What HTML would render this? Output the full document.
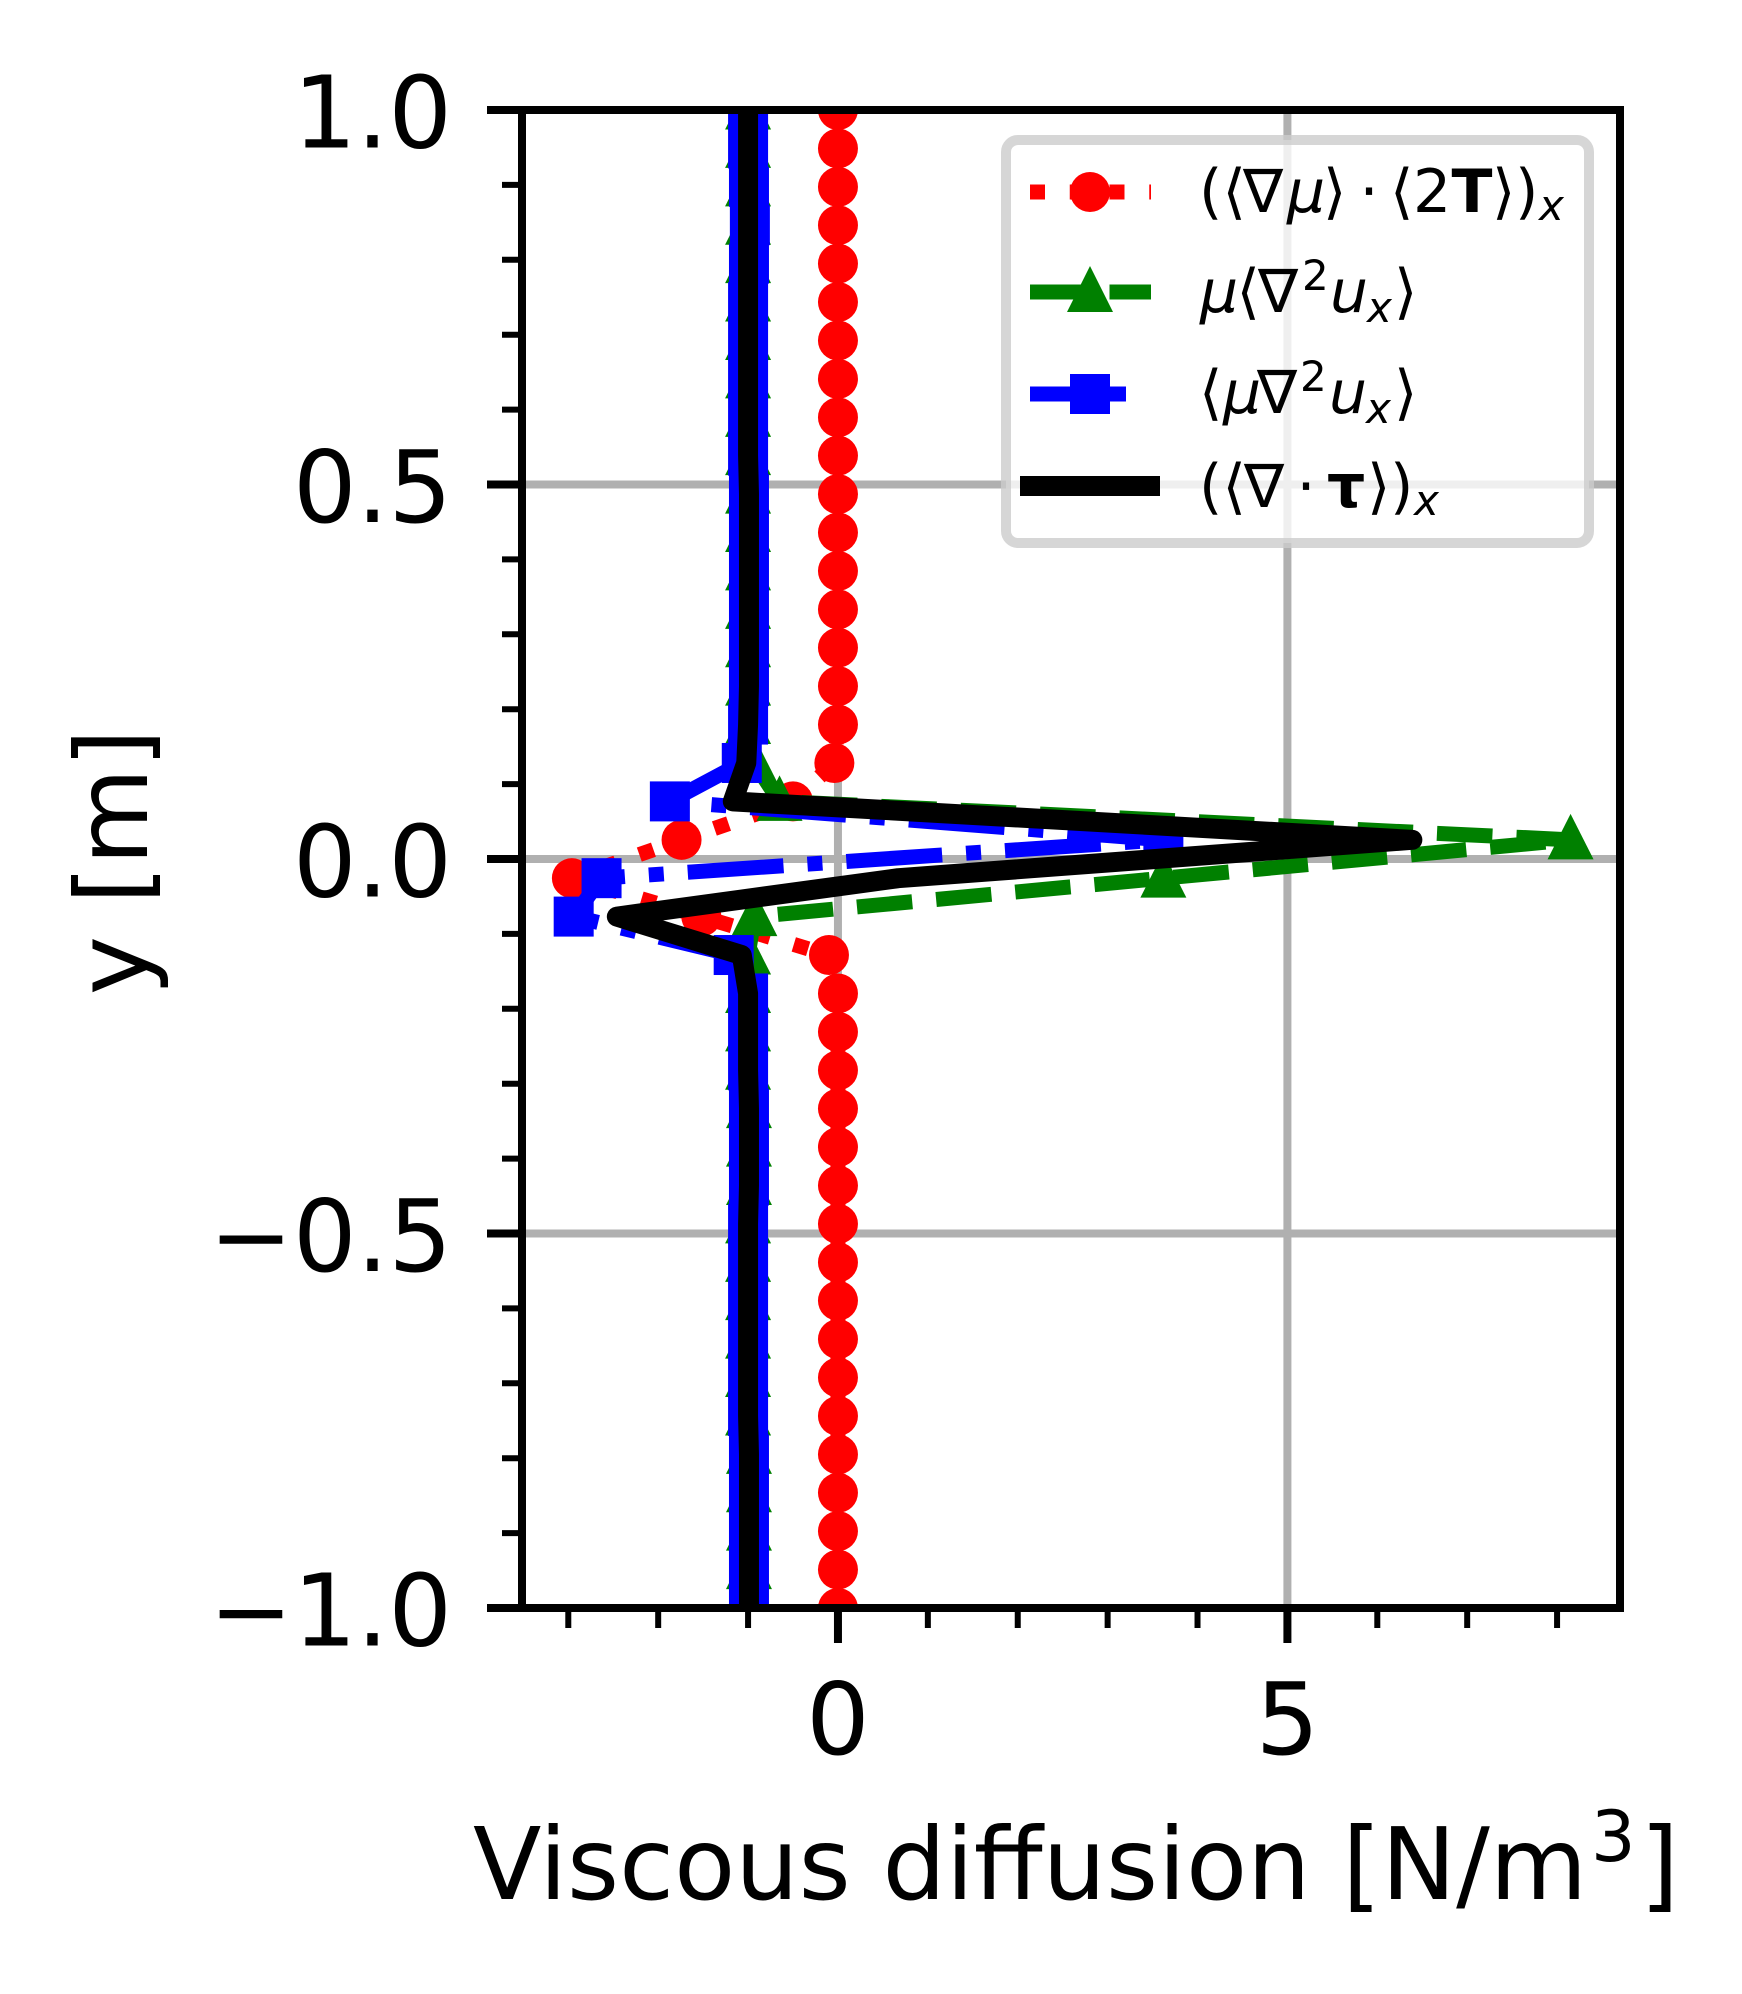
<!DOCTYPE html>
<html lang="en">
<head>
<meta charset="utf-8">
<title>Viscous diffusion profile</title>
<style>
html,body{margin:0;padding:0;background:#fff;}
svg{display:block;}
text{font-family:"DejaVu Sans","Liberation Sans",sans-serif;fill:#000;}
</style>
</head>
<body>
<svg id="chart" xmlns="http://www.w3.org/2000/svg" width="1742" height="1994" viewBox="0 0 1742 1994">
  <rect x="0" y="0" width="1742" height="1994" fill="#fff"/>
  <defs>
    <clipPath id="plot-clip"><rect x="522" y="110" width="1098" height="1498"/></clipPath>
  </defs>
  <g id="grid-layer"></g>
  <g id="series-layer" clip-path="url(#plot-clip)"></g>
  <g id="tick-layer"></g>
  <g id="spine-layer">
    <rect x="522" y="110" width="1098" height="1498" fill="none" stroke="#000" stroke-width="8" stroke-linejoin="miter"/>
  </g>

  <text font-size="100" y="1899"><tspan x="473">Viscous diffusion [N/m</tspan><tspan x="1591" y="1861" font-size="70">3</tspan><tspan x="1640" y="1899">]</tspan></text>
  <text font-size="100" text-anchor="middle" transform="translate(147,862) rotate(-90)">y [m]</text>

  <g>
    <rect x="1006" y="140" width="583" height="403" rx="12" ry="12" fill="#fff" fill-opacity="0.8" stroke="#ccc" stroke-opacity="0.8" stroke-width="10"/>

    <g>
      <line x1="1030" y1="192" x2="1151" y2="192" stroke="#f00" stroke-width="15" stroke-dasharray="15 24.75"/>
      <circle cx="1090" cy="192" r="20" fill="#f00"/>
      <text font-size="60" y="212"><tspan x="1199">(</tspan><tspan x="1222.5">⟨</tspan><tspan x="1243">∇</tspan><tspan x="1287" font-style="italic">μ</tspan><tspan x="1323">⟩</tspan><tspan x="1359.5">⋅</tspan><tspan x="1390">⟨</tspan><tspan x="1413">2</tspan><tspan x="1451.5" font-weight="bold">T</tspan><tspan x="1492">⟩</tspan><tspan x="1515">)</tspan><tspan x="1539" y="220" font-size="42" font-style="italic">x</tspan></text>
    </g>

    <g>
      <line x1="1030" y1="292" x2="1151" y2="292" stroke="#008000" stroke-width="15" stroke-dasharray="55.5 24"/>
      <polygon points="1090,266 1113,312 1067,312" fill="#008000"/>
      <text font-size="60" y="312"><tspan x="1200" font-style="italic">μ</tspan><tspan x="1236.5">⟨</tspan><tspan x="1258">∇</tspan><tspan x="1302" y="290" font-size="42">2</tspan><tspan x="1330" y="312" font-style="italic">u</tspan><tspan x="1367" y="322" font-size="42" font-style="italic">x</tspan><tspan x="1394" y="312">⟩</tspan></text>
    </g>

    <g>
      <line x1="1030" y1="394" x2="1150" y2="394" stroke="#00f" stroke-width="15" stroke-dasharray="96 24 15 24"/>
      <rect x="1070" y="374" width="40" height="40" fill="#00f"/>
      <text font-size="60" y="413"><tspan x="1199">⟨</tspan><tspan x="1223" font-style="italic">μ</tspan><tspan x="1257">∇</tspan><tspan x="1300" y="391" font-size="42">2</tspan><tspan x="1329" y="413" font-style="italic">u</tspan><tspan x="1366" y="423" font-size="42" font-style="italic">x</tspan><tspan x="1394" y="413">⟩</tspan></text>
    </g>

    <g>
      <line x1="1020" y1="486" x2="1160" y2="486" stroke="#000" stroke-width="20"/>
      <text font-size="60" y="507"><tspan x="1199">(</tspan><tspan x="1222.5">⟨</tspan><tspan x="1244">∇</tspan><tspan x="1296.5">⋅</tspan><tspan x="1327" font-weight="bold">τ</tspan><tspan x="1367">⟩</tspan><tspan x="1390">)</tspan><tspan x="1414" y="515" font-size="42" font-style="italic">x</tspan></text>
    </g>
  </g>
</svg>
<script>
// ---- chart data ----
const yValues = [-1, -0.9487, -0.8974, -0.8462, -0.7949, -0.7436, -0.6923, -0.641, -0.5897, -0.5385, -0.4872, -0.4359, -0.3846, -0.3333, -0.2821, -0.2308, -0.1795, -0.1282, -0.0769, -0.0256, 0.0256, 0.0769, 0.1282, 0.1795, 0.2308, 0.2821, 0.3333, 0.3846, 0.4359, 0.4872, 0.5385, 0.5897, 0.641, 0.6923, 0.7436, 0.7949, 0.8462, 0.8974, 0.9487, 1];
const gradMuTerm = [0, 0, 0, 0, 0, 0, 0, 0, 0, 0, 0, 0, 0, 0, 0, 0, 0, -0.1, -1.52, -2.96, -1.74, -0.5, -0.04, 0, 0, 0, 0, 0, 0, 0, 0, 0, 0, 0, 0, 0, 0, 0, 0, 0];
const muLaplacian = [-0.99, -0.99, -0.99, -0.99, -0.99, -1, -1, -1, -1, -1, -1, -0.99, -0.99, -0.99, -1, -1, -1, -1, -0.93, 3.62, 8.15, -0.65, -0.93, -1, -1, -1, -1, -1, -1, -1, -1, -1, -1, -1, -1, -1, -1, -1, -1, -1];
const avgMuLaplacian = [-0.99, -0.99, -0.99, -0.99, -0.99, -1, -1, -1, -1, -1, -1, -0.99, -0.99, -0.99, -1, -1, -1, -1.16, -2.94, -2.63, 3.62, -1.87, -1.07, -1, -0.99, -0.99, -0.99, -0.99, -0.99, -0.99, -1, -1, -1, -1, -1, -0.99, -0.98, -0.99, -1, -1];
const divTau = [-0.99, -0.99, -0.99, -0.99, -0.99, -1, -1, -1, -1, -1, -1, -0.99, -0.99, -0.99, -1, -1, -1, -1.07, -2.46, 0.67, 6.39, -1.17, -1.02, -1, -0.99, -0.99, -0.99, -0.99, -0.99, -0.99, -1, -1, -1, -1, -1, -1, -1, -1, -1, -1];
const xMajorTicks = [0, 5];
const xMajorLabels = ['0', '5'];
const xMinorTicks = [-3, -2, -1, 1, 2, 3, 4, 6, 7, 8];
const yMajorTicks = [-1, -0.5, 0, 0.5, 1];
const yMajorLabels = ['\u22121.0', '\u22120.5', '0.0', '0.5', '1.0'];
const yMinorTicks = [-0.9, -0.8, -0.7, -0.6, -0.4, -0.3, -0.2, -0.1, 0.1, 0.2, 0.3, 0.4, 0.6, 0.7, 0.8, 0.9];

// ---- axis functions ----
const xLim = [-3.515, 8.70], yLim = [-1, 1];
const plot = {left: 522, right: 1620, top: 110, bottom: 1608};
function xScale(v) { return plot.left + (v - xLim[0]) / (xLim[1] - xLim[0]) * (plot.right - plot.left); }
function yScale(v) { return plot.bottom - (v - yLim[0]) / (yLim[1] - yLim[0]) * (plot.bottom - plot.top); }

const NS = 'http://www.w3.org/2000/svg';
function make(tag, parent, attrs) {
  const el = document.createElementNS(NS, tag);
  for (const k in attrs) el.setAttribute(k, attrs[k]);
  parent.appendChild(el);
  return el;
}
const gridLayer = document.getElementById('grid-layer');
const tickLayer = document.getElementById('tick-layer');
const seriesLayer = document.getElementById('series-layer');
const svgRoot = document.getElementById('chart');

// ---- grid and ticks ----
xMajorTicks.forEach(function (v, i) {
  const x = xScale(v);
  const g = make('line', gridLayer, {x1: x, x2: x, y1: plot.top, y2: plot.bottom, stroke: '#b0b0b0', 'stroke-width': 8});
  
  
  const t = make('line', tickLayer, {x1: x, x2: x, y1: plot.bottom, y2: plot.bottom + 35, stroke: '#000', 'stroke-width': 8});
  
  
  const l = make('text', svgRoot, {x: x, y: 1754, 'font-size': 100, 'text-anchor': 'middle'});
  
  
  l.textContent = xMajorLabels[i];
});
xMinorTicks.forEach(function (v) {
  const x = xScale(v);
  const t = make('line', tickLayer, {x1: x, x2: x, y1: plot.bottom, y2: plot.bottom + 20, stroke: '#000', 'stroke-width': 6});
  
  
});
yMajorTicks.forEach(function (v, i) {
  const y = yScale(v);
  const g = make('line', gridLayer, {x1: plot.left, x2: plot.right, y1: y, y2: y, stroke: '#b0b0b0', 'stroke-width': 8});
  
  
  const t = make('line', tickLayer, {x1: plot.left - 35, x2: plot.left, y1: y, y2: y, stroke: '#000', 'stroke-width': 8});
  
  
  const l = make('text', svgRoot, {x: 452, y: y + 37.5, 'font-size': 100, 'text-anchor': 'end'});
  
  
  l.textContent = yMajorLabels[i];
});
yMinorTicks.forEach(function (v) {
  const y = yScale(v);
  const t = make('line', tickLayer, {x1: plot.left - 20, x2: plot.left, y1: y, y2: y, stroke: '#000', 'stroke-width': 6});
  
  
});

// ---- series ----
function linePath(values) {
  return values.map(function (v, i) { return (i ? 'L' : 'M') + xScale(v).toFixed(2) + ' ' + yScale(yValues[i]).toFixed(2); }).join(' ');
}
function drawLine(values, color, width, dash) {
  const attrs = {d: linePath(values), fill: 'none', stroke: color, 'stroke-width': width, 'stroke-linejoin': 'round'};
  if (dash) attrs['stroke-dasharray'] = dash;
  return make('path', seriesLayer, attrs);
}

// red: dotted with circles
const redLine = drawLine(gradMuTerm, '#f00', 15, '15 24.75');


gradMuTerm.forEach(function (v, i) {
  const m = make('circle', seriesLayer, {cx: xScale(v), cy: yScale(yValues[i]), r: 20, fill: '#f00'});
  
  
});

// green: dashed with triangles
const greenLine = drawLine(muLaplacian, '#008000', 15, '55.5 24');


muLaplacian.forEach(function (v, i) {
  const x = xScale(v), y = yScale(yValues[i]);
  const m = make('polygon', seriesLayer, {points: x + ',' + (y - 26) + ' ' + (x + 23) + ',' + (y + 19.5) + ' ' + (x - 23) + ',' + (y + 19.5), fill: '#008000'});
  
  
});

// blue: dash-dot with squares
const blueLine = drawLine(avgMuLaplacian, '#00f', 15, '96 24 15 24');


avgMuLaplacian.forEach(function (v, i) {
  const m = make('rect', seriesLayer, {x: xScale(v) - 20, y: yScale(yValues[i]) - 20, width: 40, height: 40, fill: '#00f'});
  
  
});

// black: solid
const blackLine = drawLine(divTau, '#000', 20, null);


</script>
</body>
</html>
